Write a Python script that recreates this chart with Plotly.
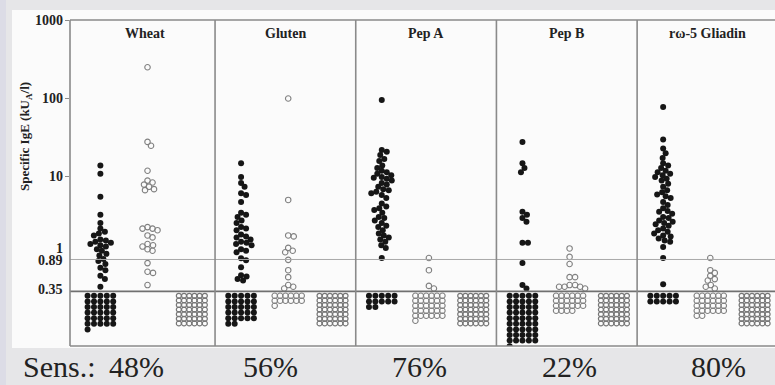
import math
import plotly.graph_objects as go

# ---------------- data ----------------
panels = ["Wheat", "Gluten", "Pep A", "Pep B", "r\u03c9-5 Gliadin"]
sens_labels = ["Sens.:\u2009 48%", "56%", "76%", "22%", "80%"]

# patients (filled black) with specific IgE >= 0.35 kUA/l
patients_wheat = [14, 11, 5.6, 3.3, 2.6, 2.2, 2.0, 1.9, 1.8, 1.6, 1.55, 1.5, 1.45, 1.4,
                  1.35, 1.3, 1.2, 1.15, 1.05, 1.0, 0.9, 0.85, 0.78, 0.7, 0.65, 0.55, 0.5, 0.4]
patients_gluten = [15, 10, 8.4, 7.5, 6.2, 5.9, 4.8, 3.5, 3.3, 3.1, 2.8, 2.6, 2.3, 2.2, 2.1,
                   1.85, 1.75, 1.7, 1.6, 1.5, 1.45, 1.4, 1.35, 1.2, 1.15, 1.1, 0.92, 0.87,
                   0.71, 0.56, 0.54, 0.5, 0.48]
patients_pepa = [96, 22, 21, 19, 17, 16, 14, 13, 12, 11.5, 11, 10.5, 10, 9.8, 9.5, 9, 8.4,
                 8, 7.5, 7, 6.8, 6.5, 6.2, 5.9, 5.4, 4.6, 4.2, 4, 3.8, 3.5, 3.1, 3, 2.8,
                 2.6, 2.4, 2.3, 2.1, 1.9, 1.8, 1.7, 1.6, 1.5, 1.35, 1.25, 0.93]
patients_pepb = [28, 15, 13, 11.5, 3.6, 3.3, 3.0, 2.7, 1.45, 1.45, 0.8, 0.42, 0.38]
patients_omega5 = [78, 30, 23, 20, 17.5, 15, 14, 13, 12, 11.5, 11, 10.5, 10, 9.5, 9, 8.2,
                   7.5, 6.8, 6.4, 6, 5.7, 5.4, 4.8, 4.4, 4, 3.7, 3.6, 3.4, 3.1, 3, 2.8,
                   2.7, 2.6, 2.5, 2.4, 2.2, 2.1, 2, 1.9, 1.8, 1.75, 1.65, 1.55, 1.5, 1.28,
                   0.93, 0.43]

# atopic controls (open circles) with specific IgE >= 0.35 kUA/l
controls_wheat = [250, 28, 25, 12, 9, 8.5, 8, 7.5, 7, 6.8, 2.3, 2.2, 2.2, 2.1, 1.8, 1.7,
                  1.4, 1.35, 1.3, 1.2, 1.15, 0.8, 0.62, 0.6, 0.42]
controls_gluten = [100, 5.1, 1.8, 1.75, 1.25, 1.15, 1.1, 0.88, 0.65, 0.53, 0.42, 0.4, 0.38]
controls_pepa = [0.93, 0.65, 0.41, 0.38]
controls_pepb = [1.23, 0.96, 0.78, 0.53, 0.53, 0.42, 0.42, 0.4, 0.4, 0.4, 0.38]
controls_omega5 = [0.93, 0.65, 0.6, 0.55, 0.5, 0.48, 0.42, 0.4, 0.38]

# counts below the detection limit (< 0.35 kUA/l)
patients_below = [31, 27, 12, 46, 10]
controls_below = [0, 13, 31, 22, 26]
nonatopic_below = [42, 42, 42, 42, 42]

patients = [patients_wheat, patients_gluten, patients_pepa, patients_pepb, patients_omega5]
controls = [controls_wheat, controls_gluten, controls_pepa, controls_pepb, controls_omega5]

y_ticks = [1000, 100, 10, 1, 0.89, 0.35]
y_tick_text = ["1000", "100", "10", "1", "0.89", "0.35"]
cutoff = 0.35
cutoff2 = 0.89

# ---------------- geometry ----------------
W, H = 775, 385
ML, MT, MR, MB = 70, 20, 0, 39
PW = W - ML - MR
PH = H - MT - MB
YMIN, YMAX = -1.153, 3.0
PXD = PH / (YMAX - YMIN)          # pixels per decade
XMIN, XMAX = -0.031, 4.98
PXU = PW / (XMAX - XMIN)          # pixels per panel

COL_OFF = [0.185, 0.52, 0.835]
SERIF = "Liberation Serif, 'DejaVu Serif', 'Times New Roman', Times, serif"


def ypx(v):
    return (YMAX - math.log10(v)) * PXD


def val_from_px(p):
    return 10 ** (YMAX - p / PXD)


def swarm(values, center, diam):
    order = sorted(range(len(values)), key=lambda i: -values[i])
    placed = []
    xs = [0.0] * len(values)
    for i in order:
        y = ypx(values[i])
        k = 0
        while True:
            cands = [0.0] if k == 0 else [k * 0.5, -k * 0.5]
            ok_dx = None
            for dx in cands:
                if all((dx - px) ** 2 + (y - py) ** 2 >= diam ** 2 for px, py in placed):
                    ok_dx = dx
                    break
            if ok_dx is not None:
                placed.append((ok_dx, y))
                xs[i] = center + ok_dx / PXU
                break
            k += 1
    return xs, list(values)


def grid(n, center, ncols, dxp, dyp, y0):
    xs, ys = [], []
    for i in range(n):
        r, c = divmod(i, ncols)
        xs.append(center + (c - (ncols - 1) / 2) * dxp / PXU)
        ys.append(val_from_px(y0 + r * dyp))
    return xs, ys


fig = go.Figure()

BLACK = "#161616"
GRAY = "#808080"
GRID_TOP = ypx(cutoff) + 4.5

for i in range(5):
    cx = i + COL_OFF[0]
    sx, sy = swarm(patients[i], cx, 5.2)
    gx, gy = grid(patients_below[i], cx, 5, 6.4, 5.6, GRID_TOP)
    fig.add_trace(go.Scatter(x=sx + gx, y=sy + gy, mode="markers",
                             marker=dict(size=6, color=BLACK, line=dict(width=0)),
                             hoverinfo="y", showlegend=False))
    cx = i + COL_OFF[1]
    sx, sy = swarm(controls[i], cx, 5.2)
    gx, gy = grid(controls_below[i], cx, 6, 5.4, 5.0, GRID_TOP)
    fig.add_trace(go.Scatter(x=sx + gx, y=sy + gy, mode="markers",
                             marker=dict(size=5.5, symbol="circle-open", color=GRAY,
                                         line=dict(width=1.1, color=GRAY)),
                             hoverinfo="y", showlegend=False))
    cx = i + COL_OFF[2]
    gx, gy = grid(nonatopic_below[i], cx, 6, 5.2, 4.6, GRID_TOP)
    fig.add_trace(go.Scatter(x=gx, y=gy, mode="markers",
                             marker=dict(size=5, symbol="circle-open", color="#767676",
                                         line=dict(width=1.2, color="#767676")),
                             hoverinfo="y", showlegend=False))

fig.add_trace(go.Scatter(x=[XMIN, XMAX], y=[cutoff2, cutoff2], mode="lines",
                         line=dict(color="#a8a8a8", width=1), hoverinfo="skip", showlegend=False))
fig.add_trace(go.Scatter(x=[XMIN, XMAX], y=[cutoff, cutoff], mode="lines",
                         line=dict(color="#707070", width=1.8), hoverinfo="skip", showlegend=False))

shapes = []
shapes.append(dict(type="rect", xref="paper", yref="paper", layer="below",
                   x0=(12 - ML) / PW, x1=1.01, y0=(PH - (348 - MT)) / PH, y1=(PH + MT - 10) / PH,
                   fillcolor="#fbfbfb", line=dict(width=0)))
shapes.append(dict(type="rect", xref="paper", yref="paper", layer="below",
                   x0=(0 - ML) / PW, x1=(6 - ML) / PW, y0=-MB / PH, y1=(PH + MT) / PH,
                   fillcolor="#dcdce6", line=dict(width=0)))
FRAME = "#8a8a8a"
shapes.append(dict(type="line", xref="paper", yref="paper", x0=0, x1=0, y0=0, y1=1,
                   line=dict(color=FRAME, width=1.6)))
shapes.append(dict(type="line", xref="paper", yref="paper", x0=0, x1=1.01, y0=1, y1=1,
                   line=dict(color=FRAME, width=1.6)))
shapes.append(dict(type="line", xref="paper", yref="paper", x0=0, x1=1.01, y0=0, y1=0,
                   line=dict(color=FRAME, width=1.6)))
for i in range(1, 5):
    shapes.append(dict(type="line", xref="x", yref="paper", x0=i, x1=i, y0=0, y1=1,
                       line=dict(color=FRAME, width=1.6)))

annotations = []
for name, i in zip(panels, range(5)):
    annotations.append(dict(x=i + 0.5, xref="x", y=(PH - 13) / PH, yref="paper",
                            text="<b>%s</b>" % name, showarrow=False,
                            xanchor="center", yanchor="middle",
                            font=dict(family=SERIF, size=14, color="#222")))
shifts = {"1": 7, "0.89": -1, "0.35": 2, "1000": 0, "100": 0, "10": 0}
for v, t in zip(y_ticks, y_tick_text):
    annotations.append(dict(x=-5 / PW, xref="paper", y=math.log10(v), yref="y",
                            text="<b>%s</b>" % t, showarrow=False, xanchor="right",
                            yanchor="middle", yshift=shifts[t],
                            font=dict(family=SERIF, size=14, color="#222")))
annotations.append(dict(x=(25 - ML) / PW, xref="paper", y=(PH + MT - 137) / PH, yref="paper",
                        text="<b>Specific IgE (kU<sub>A</sub>/l)</b>", textangle=-90,
                        showarrow=False, xanchor="center", yanchor="middle",
                        font=dict(family=SERIF, size=13, color="#222")))
sens_px = [93, 270, 419, 569, 718]
for t, p in zip(sens_labels, sens_px):
    annotations.append(dict(x=(p - ML) / PW, xref="paper", y=-(366 - MT - PH) / PH, yref="paper",
                            text=t, showarrow=False, xanchor="center", yanchor="middle",
                            font=dict(family=SERIF, size=30, color="#222")))

fig.update_layout(
    width=W, height=H,
    margin=dict(l=ML, r=MR, t=MT, b=MB, pad=0),
    paper_bgcolor="#e6e6e8", plot_bgcolor="rgba(0,0,0,0)",
    xaxis=dict(range=[XMIN, XMAX], showgrid=False, zeroline=False, showticklabels=False,
               showline=False, fixedrange=True),
    yaxis=dict(type="log", range=[YMIN, YMAX], showgrid=False, zeroline=False,
               showticklabels=False, showline=False, ticks="outside", ticklen=4,
               tickcolor=FRAME, tickvals=y_ticks[:3], fixedrange=True),
    shapes=shapes, annotations=annotations, showlegend=False,
)

fig.write_html("out.html", config={"displayModeBar": False},
               post_script="document.body.style.margin='0';document.body.style.overflow='hidden';")
